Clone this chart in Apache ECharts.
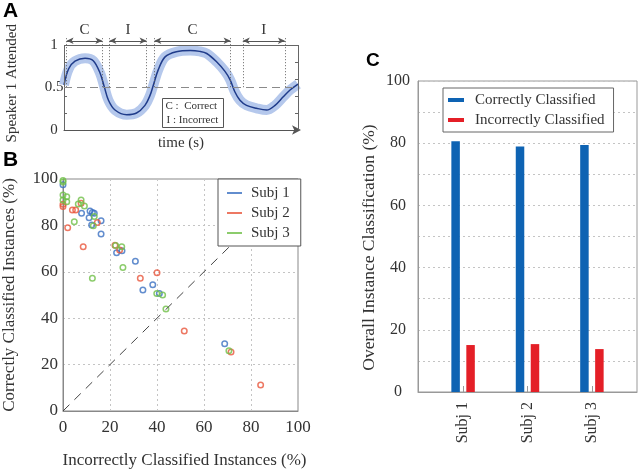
<!DOCTYPE html>
<html><head><meta charset="utf-8">
<script src="https://cdn.jsdelivr.net/npm/echarts@6/dist/echarts.min.js"></script>
<style>html,body{margin:0;padding:0;background:#fff}#c{width:640px;height:471px}</style>
</head><body><div id="c"></div>
<script>
// ---------- Panel A ----------
const timeA   = [0, 2, 4.7, 9, 12.5, 15.4, 17.2, 19, 21.8, 26.8, 31, 34.6, 36.8, 38.2, 40.3, 43.2, 48, 54, 58, 61, 65.3, 68.8, 71, 73, 75.2, 78, 82.3, 86.6, 90.2, 93.7, 96.6, 100];
const attendA = [0.53, 0.72, 0.81, 0.845, 0.815, 0.67, 0.51, 0.35, 0.235, 0.18, 0.2, 0.29, 0.41, 0.53, 0.71, 0.86, 0.92, 0.935, 0.925, 0.9, 0.80, 0.69, 0.59, 0.45, 0.35, 0.29, 0.255, 0.235, 0.29, 0.39, 0.47, 0.54];
const segStart = [1.1, 19.4, 38.6, 76.4];
const segEnd   = [16.4, 35.3, 71.2, 94.4];
const segLabel = ['C', 'I', 'C', 'I'];
const chanceLevel = 0.5;
const aLabelTicks = [0, 0.5, 1];
const aMinorTicks = [0.2, 0.4, 0.6, 0.8];

// ---------- Panel B ----------
const subj1X = [0, 7.9, 11.5, 12.5, 13.3, 11.1, 12.2, 16.2, 16.2, 22.8, 25.1, 30.8, 34, 38.2, 41, 68.8];
const subj1Y = [97.5, 85.2, 86.2, 85.6, 85.2, 83.3, 80.2, 82, 76.3, 68.2, 69.1, 64.5, 52.2, 54.4, 50.7, 29];
const subj2X = [0, 0, 2, 4, 5.4, 7.7, 8.6, 14.6, 22.1, 24.1, 32.9, 40, 51.6, 71.5, 84.1];
const subj2Y = [89.1, 88.1, 79, 86.6, 86.6, 89.5, 70.8, 81.3, 71.4, 69.4, 57.2, 59.6, 34.5, 25.4, 11.2];
const subj3X = [0, 0, 0, 1.6, 0, 1.6, 4.8, 6.5, 7.7, 9.1, 12.9, 13.3, 12.5, 22.4, 25, 25.5, 39.9, 42.4, 43.8, 70.6];
const subj3Y = [99.4, 98.7, 93.1, 92.4, 91, 90.2, 81.6, 89.2, 90.9, 88.4, 79.9, 83.8, 57.2, 71.3, 70.8, 61.9, 50.6, 50, 44, 26];
const diagX = [0, 71];
const diagY = [0, 71];
const subjNames = ['Subj 1', 'Subj 2', 'Subj 3'];

// ---------- Panel C ----------
const barCats = ['Subj 1', 'Subj 2', 'Subj 3'];
const barPositions = [1, 2, 3];
const correctPct = [80.6, 78.9, 79.4];
const incorrectPct = [15.1, 15.4, 13.8];

const SERIF = '"Liberation Serif", "DejaVu Serif", serif';
const SANS = '"Liberation Sans", Arial, sans-serif';
const TXT = '#333';
const cBlue = '#3b70c2', cRed = '#e8563c', cGreen = '#6fbf47';

const zip = (xs, ys) => xs.map((x, i) => [x, ys[i]]);

const annLines = [];
segStart.forEach((s, i) => {
  annLines.push([
    { coord: [s, 1.05], name: segLabel[i], symbol: 'arrow', symbolSize: [5, 7],
      lineStyle: { color: '#555', width: 1, type: 'solid' },
      label: { show: true, position: 'middle', formatter: '{b}', distance: 3, fontFamily: SERIF, fontSize: 15, color: TXT } },
    { coord: [segEnd[i], 1.05], symbol: 'arrow', symbolSize: [5, 7] }
  ]);
  [s, segEnd[i]].forEach(t => {
    annLines.push([
      { coord: [t, 1.08], symbol: 'none', lineStyle: { color: '#666', width: 1, type: [1, 2] } },
      { coord: [t, chanceLevel], symbol: 'none' }
    ]);
  });
});
// frame of panel A
annLines.push([{ coord: [0, 1], lineStyle: { color: '#666', width: 1, type: 'solid' } }, { coord: [100, 1] }]);
annLines.push([{ coord: [100, 0], lineStyle: { color: '#666', width: 1, type: 'solid' } }, { coord: [100, 1] }]);
annLines.push([{ coord: [0, 0], lineStyle: { color: '#666', width: 1, type: 'solid' } }, { coord: [0, 1] }]);
annLines.push({ yAxis: chanceLevel, lineStyle: { color: '#8a8a8a', width: 1.2, type: [8, 5] } });

const chart = echarts.init(document.getElementById('c'), null, { renderer: 'canvas' });
chart.setOption({
  animation: false,
  backgroundColor: '#fff',
  grid: [
    { left: 64, top: 36.5, width: 234, height: 93.5 },
    { left: 63, top: 179, width: 235, height: 232, show: true, borderColor: '#888', borderWidth: 1 },
    { left: 418, top: 81, width: 219, height: 311, show: true, borderColor: '#999', borderWidth: 1 }
  ],
  xAxis: [
    { gridIndex: 0, type: 'value', min: 0, max: 100,
      name: 'time (s)', nameLocation: 'middle', nameGap: 6,
      nameTextStyle: { fontFamily: SERIF, fontSize: 15, color: TXT },
      axisLine: { show: true, lineStyle: { color: '#555' }, symbol: ['none', 'arrow'], symbolSize: [7, 9], symbolOffset: [0, 3] },
      axisTick: { show: false }, axisLabel: { show: false }, splitLine: { show: false } },
    { gridIndex: 1, type: 'value', min: 0, max: 100, interval: 20,
      name: 'Incorrectly Classified Instances (%)', nameLocation: 'middle', nameGap: 41,
      nameTextStyle: { fontFamily: SERIF, fontSize: 17, color: TXT, padding: [0, 0, 0, 8] },
      axisLine: { lineStyle: { color: '#888' } }, axisTick: { show: false },
      axisLabel: { margin: 8, fontFamily: SERIF, fontSize: 17, color: TXT },
      splitLine: { show: true, lineStyle: { color: '#c4c4c4', type: [2, 3] } } },
    { gridIndex: 2, type: 'value', min: 0.3, max: 3.7,
      axisLine: { lineStyle: { color: '#999' } },
      axisTick: { show: true, inside: true, length: 6, customValues: barPositions, lineStyle: { color: '#999' } },
      axisLabel: { customValues: barPositions, formatter: v => barCats[barPositions.indexOf(Math.round(v))], rotate: 90, margin: 10, fontFamily: SERIF, fontSize: 16, color: TXT },
      splitLine: { show: false } }
  ],
  yAxis: [
    { gridIndex: 0, type: 'value', min: 0, max: 1.1,
      name: 'Speaker 1 Attended', nameLocation: 'middle', nameGap: 44,
      nameTextStyle: { fontFamily: SERIF, fontSize: 15, color: TXT },
      axisLine: { show: false },
      axisTick: { show: true, inside: true, length: 3, customValues: aMinorTicks, lineStyle: { color: '#666' } },
      axisLabel: { customValues: aLabelTicks, align: 'center', margin: 10, fontFamily: SERIF, fontSize: 15, color: TXT },
      splitLine: { show: false } },
    { gridIndex: 1, type: 'value', min: 0, max: 100, interval: 20,
      name: 'Correctly Classified Instances (%)', nameLocation: 'middle', nameGap: 45,
      nameTextStyle: { fontFamily: SERIF, fontSize: 17, color: TXT },
      axisLine: { lineStyle: { color: '#888' } }, axisTick: { show: false },
      axisLabel: { margin: 5, fontFamily: SERIF, fontSize: 17, color: TXT },
      splitLine: { show: true, lineStyle: { color: '#c4c4c4', type: [2, 3] } } },
    { gridIndex: 2, type: 'value', min: 0, max: 100, interval: 10,
      name: 'Overall Instance Classification (%)', nameLocation: 'middle', nameGap: 40,
      nameTextStyle: { fontFamily: SERIF, fontSize: 17.5, color: TXT, padding: [0, 22, 0, 0] },
      axisLine: { lineStyle: { color: '#999' } }, axisTick: { show: false },
      axisLabel: { formatter: v => (v % 20 === 0 ? String(v) : ''), align: 'center', margin: 20, fontFamily: SERIF, fontSize: 16, color: TXT },
      splitLine: { show: true, lineStyle: { color: '#c4c4c4', type: [2, 3] } } },
    { gridIndex: 0, type: 'value', min: 0, max: 1.1, position: 'right',
      axisLine: { show: false }, axisLabel: { show: false }, splitLine: { show: false },
      axisTick: { show: true, inside: true, length: 3, customValues: aMinorTicks, lineStyle: { color: '#666' } } }
  ],
  legend: [
    { data: subjNames.map((n, i) => ({ name: n, icon: 'rect', itemStyle: { color: [cBlue, cRed, cGreen][i], borderWidth: 0 } })),
      orient: 'vertical', left: 218, top: 179, itemWidth: 15, itemHeight: 2, itemGap: 4,
      padding: [6, 11, 5, 9], backgroundColor: '#fff', borderColor: '#555', borderWidth: 1,
      textStyle: { fontFamily: SERIF, fontSize: 15, color: TXT, lineHeight: 16, padding: [0, 0, 0, 4] },
      selectedMode: false },
    { data: [{ name: 'Correctly Classified', icon: 'rect' }, { name: 'Incorrectly Classified', icon: 'rect' }],
      orient: 'vertical', left: 443, top: 88, itemWidth: 16, itemHeight: 4, itemGap: 4,
      padding: [4, 9, 4, 5], backgroundColor: '#fff', borderColor: '#666', borderWidth: 1,
      textStyle: { fontFamily: SERIF, fontSize: 15, color: TXT, lineHeight: 16, padding: [0, 0, 0, 6] },
      selectedMode: false }
  ],
  graphic: [
    { type: 'text', left: 3, top: 1, style: { text: 'A', fontFamily: SANS, fontWeight: 'bold', fontSize: 21, fill: '#000' } },
    { type: 'text', left: 3, top: 150, style: { text: 'B', fontFamily: SANS, fontWeight: 'bold', fontSize: 21, fill: '#000' } },
    { type: 'text', left: 366, top: 51, style: { text: 'C', fontFamily: SANS, fontWeight: 'bold', fontSize: 19, fill: '#000' } },
    { type: 'group', left: 162, top: 98, z: 100, children: [
      { type: 'rect', shape: { x: 0, y: 0, width: 61, height: 29 }, style: { fill: '#fff', stroke: '#555', lineWidth: 1 } },
      { type: 'text', x: 3, y: 2, style: { text: 'C :  Correct', fontFamily: SERIF, fontSize: 11, fill: TXT } },
      { type: 'text', x: 4, y: 16, style: { text: 'I : Incorrect', fontFamily: SERIF, fontSize: 11, fill: TXT } }
    ] }
  ],
  series: [
    { type: 'line', name: 'band', xAxisIndex: 0, yAxisIndex: 0, data: zip(timeA, attendA),
      smooth: 0.35, symbol: 'none', lineStyle: { color: '#b5c8ec', width: 10 }, z: 1, silent: true,
      markLine: { silent: true, symbol: ['none', 'none'], label: { show: false }, animation: false, data: annLines } },
    { type: 'line', name: 'attend', xAxisIndex: 0, yAxisIndex: 0, data: zip(timeA, attendA),
      smooth: 0.35, symbol: 'none', lineStyle: { color: '#1f3b8a', width: 1.5 }, z: 3, silent: true },
    { type: 'line', name: 'diag', xAxisIndex: 1, yAxisIndex: 1, data: zip(diagX, diagY),
      symbol: 'none', lineStyle: { color: '#444', width: 1, type: [9, 7] }, silent: true },
    ...[[subj1X, subj1Y, cBlue], [subj2X, subj2Y, cRed], [subj3X, subj3Y, cGreen]].map((s, i) => ({
      type: 'scatter', name: subjNames[i], xAxisIndex: 1, yAxisIndex: 1, data: zip(s[0], s[1]),
      symbol: 'circle', symbolSize: 5.5,
      itemStyle: { color: 'rgba(255,255,255,0)', borderColor: s[2], borderWidth: 1.5 }
    })),
    { type: 'bar', name: 'Correctly Classified', xAxisIndex: 2, yAxisIndex: 2,
      data: zip(barPositions, correctPct), barWidth: 8.5, barGap: '76%', itemStyle: { color: '#0e63b3' } },
    { type: 'bar', name: 'Incorrectly Classified', xAxisIndex: 2, yAxisIndex: 2,
      data: zip(barPositions, incorrectPct), barWidth: 8.5, barGap: '76%', itemStyle: { color: '#e41f27' } }
  ]
});
</script>
</body></html>
